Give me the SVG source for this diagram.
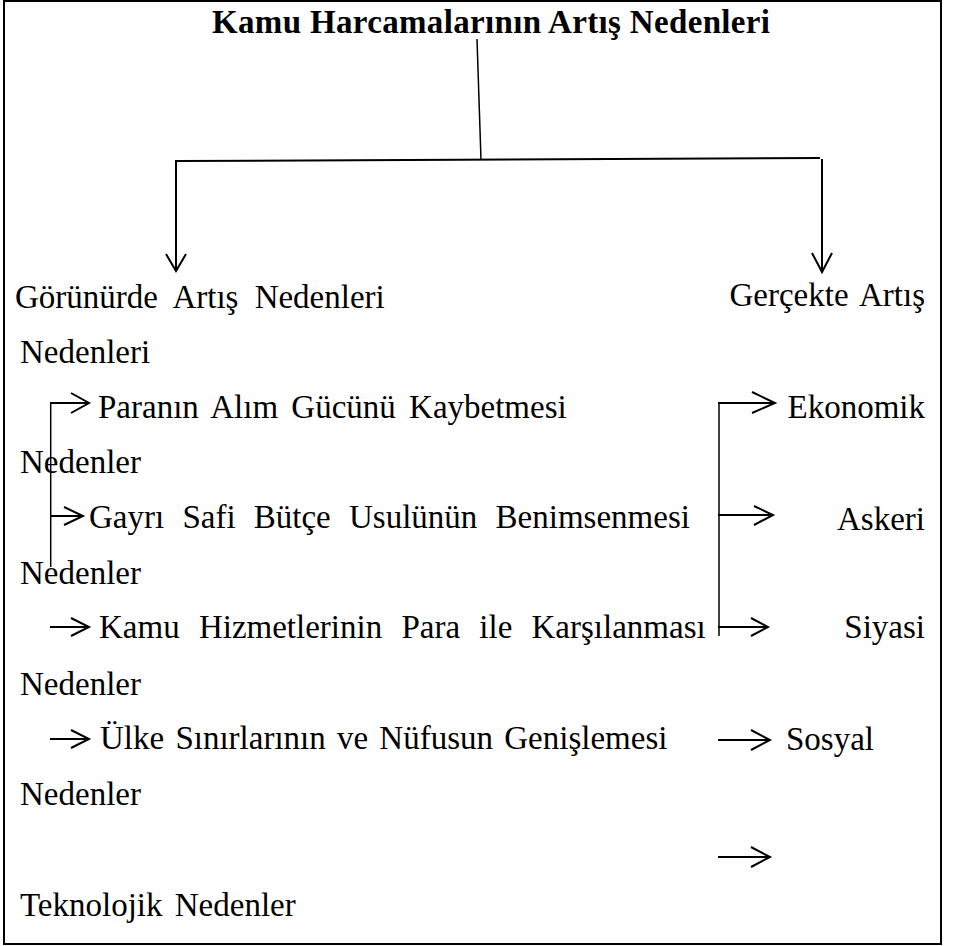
<svg xmlns="http://www.w3.org/2000/svg" width="954" height="946" viewBox="0 0 954 946">
<style>
text{font-family:"Liberation Serif","Times New Roman",serif;font-size:33px;fill:#000}
.title{font-weight:bold}
.r{text-anchor:end}
.ln{stroke:#000;stroke-width:2;fill:none;stroke-linecap:square}
.thin{stroke:#000;stroke-width:1.5;fill:none}
.hd{stroke:#000;stroke-width:2;fill:none;stroke-linejoin:miter}
</style>
<rect x="0" y="0" width="954" height="946" fill="#fff"/>
<rect x="4" y="1" width="937" height="943" fill="none" stroke="#000" stroke-width="2"/>
<g id="title"><text class="title" x="212" y="33" textLength="558" lengthAdjust="spacing">Kamu Harcamalarının Artış Nedenleri</text></g>
<g id="gorunurde"><text x="15" y="308" word-spacing="8">Görünürde Artış Nedenleri</text><text x="20" y="363">Nedenleri</text></g>
<g id="gercekte"><text class="r" x="925" y="306" word-spacing="4">Gerçekte Artış</text></g>
<g id="parana"><text x="98" y="418" word-spacing="5">Paranın Alım Gücünü Kaybetmesi</text><text x="20" y="473">Nedenler</text></g>
<g id="gayri"><text x="89" y="528" word-spacing="10">Gayrı Safi Bütçe Usulünün Benimsenmesi</text><text x="20" y="584">Nedenler</text></g>
<g id="kamu"><text x="99" y="638" word-spacing="11">Kamu Hizmetlerinin Para ile Karşılanması</text><text x="20" y="695">Nedenler</text></g>
<g id="ulke"><text x="100" y="749" word-spacing="3">Ülke Sınırlarının ve Nüfusun Genişlemesi</text><text x="20" y="805">Nedenler</text></g>
<g id="teknolojik"><text x="20" y="916" word-spacing="4">Teknolojik Nedenler</text></g>
<g id="ekonomik"><text class="r" x="925" y="418">Ekonomik</text></g>
<g id="askeri"><text class="r" x="925" y="530">Askeri</text></g>
<g id="siyasi"><text class="r" x="925" y="638">Siyasi</text></g>
<g id="sosyal"><text x="786" y="750">Sosyal</text></g>
<g id="connectors">
<line class="thin" x1="477" y1="39" x2="481" y2="160"/>
<line class="ln" x1="176" y1="161" x2="819" y2="158"/>
<line class="ln" x1="176" y1="161" x2="176" y2="270"/>
<polyline class="hd" points="166,254 176,271 186,254"/>
<line class="ln" x1="822" y1="160" x2="822" y2="271"/>
<polyline class="hd" points="812,253 822,272 832,253"/>
<line class="thin" x1="50.7" y1="403" x2="50.7" y2="567"/>
<line class="ln" x1="51" y1="403" x2="88" y2="403"/>
<polyline class="hd" points="71,393 89,403 71,413"/>
<line class="ln" x1="51" y1="516" x2="82" y2="516"/>
<polyline class="hd" points="64,507 83,516 64,525"/>
<line class="ln" x1="51" y1="627" x2="88" y2="627"/>
<polyline class="hd" points="71,618 89,627 71,636"/>
<line class="ln" x1="51" y1="739" x2="88" y2="739"/>
<polyline class="hd" points="71,730 89,739 71,748"/>
<line class="thin" x1="719" y1="403" x2="719" y2="636"/>
<line class="ln" x1="719" y1="403" x2="774" y2="403"/>
<polyline class="hd" points="752,392 775,403 752,413"/>
<line class="ln" x1="719" y1="515" x2="772" y2="515"/>
<polyline class="hd" points="754,506 773,515 754,525"/>
<line class="ln" x1="719" y1="627" x2="767" y2="627"/>
<polyline class="hd" points="751,618 768,627 751,636"/>
<line class="ln" x1="719" y1="740" x2="769" y2="740"/>
<polyline class="hd" points="751,730 770,740 751,750"/>
<line class="ln" x1="719" y1="857" x2="769" y2="857"/>
<polyline class="hd" points="751,847 770,857 751,867"/>
</g>
</svg>
